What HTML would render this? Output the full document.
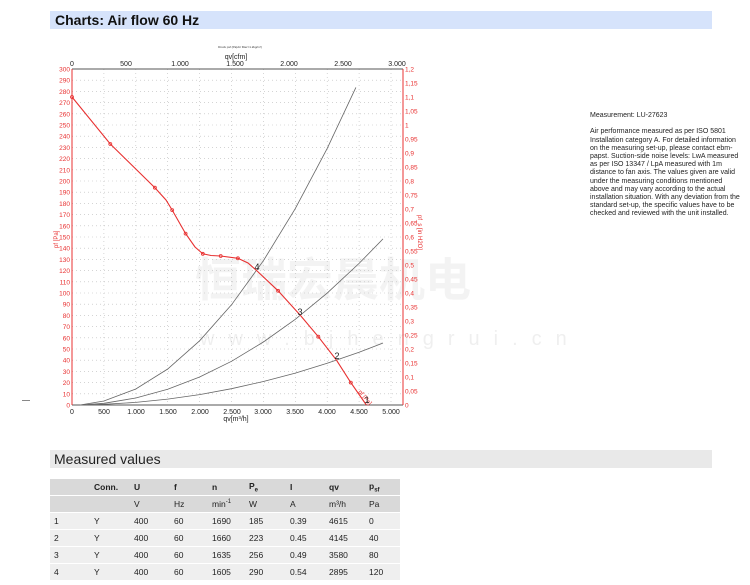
<!DOCTYPE html>
<html><head><meta charset="utf-8"><style>
body{margin:0;width:750px;height:585px;background:#fff;font-family:"Liberation Sans",sans-serif;position:relative;overflow:hidden}
.t{position:absolute;left:50px;top:11px;width:662px;height:18px;background:#d6e3fb;font-weight:bold;font-size:14px;line-height:18px;padding-left:5px;box-sizing:border-box;color:#111}
.m{position:absolute;left:50px;top:450px;width:662px;height:18px;background:#e9e9e9;font-size:14px;line-height:18px;padding-left:4px;box-sizing:border-box;color:#222}
.n{position:absolute;left:590px;top:112px;width:150px;font-size:7px;line-height:8.2px;color:#222}
table{position:absolute;left:50px;top:478px;border-collapse:separate;border-spacing:0 1px;font-size:8.5px;color:#222}
td{height:16px;padding:0 0 0 4px;background:#efefef}
tr.h td{background:#d9d9d9;font-weight:bold}
tr.u td{background:#d9d9d9}
</style></head><body>
<div class="t">Charts: Air flow 60 Hz</div>
<div style="position:absolute;left:22px;top:400px;width:8px;height:1px;background:#888"></div>
<svg width="750" height="440" style="position:absolute;left:0;top:0" font-family="Liberation Sans,sans-serif">
<text x="240" y="48" font-size="3" text-anchor="middle" fill="#333">Druck psf (Pa)Air filter=1.2kg/m³)</text>
<text x="236" y="59" font-size="7" text-anchor="middle" fill="#222">qv[cfm]</text>
<g fill="#ccc" opacity="0.22" font-size="46" font-weight="bold" font-family="Noto Sans CJK SC,sans-serif"><text x="195" y="296">恒瑞宏晨机电</text></g>
<g fill="#ccc" opacity="0.3" font-size="20"><text x="200" y="345" letter-spacing="14">www.bjhengrui.cn</text></g>
<g stroke="#bbb" stroke-width="0.6" stroke-dasharray="1,3">
<path d="M103.9 69V405M135.8 69V405M167.7 69V405M199.6 69V405M231.5 69V405M263.4 69V405M295.3 69V405M327.2 69V405M359.1 69V405M391 69V405"/>
<path d="M72 393.8H403M72 382.6H403M72 371.4H403M72 360.2H403M72 349H403M72 337.8H403M72 326.6H403M72 315.4H403M72 304.2H403M72 293H403M72 281.8H403M72 270.6H403M72 259.4H403M72 248.2H403M72 237H403M72 225.8H403M72 214.6H403M72 203.4H403M72 192.2H403M72 181H403M72 169.8H403M72 158.6H403M72 147.4H403M72 136.2H403M72 125H403M72 113.8H403M72 102.6H403M72 91.4H403M72 80.2H403"/>
</g>
<path d="M72 69H403M72 405H403" stroke="#555" stroke-width="1"/>
<path d="M72 69V405" stroke="#e83030" stroke-width="1"/>
<path d="M403 69V405" stroke="#e83030" stroke-width="1"/>
<g font-size="7" fill="#222" text-anchor="middle">
<text x="72" y="66">0</text><text x="126" y="66">500</text><text x="180" y="66">1.000</text><text x="235" y="66">1.500</text><text x="289" y="66">2.000</text><text x="343" y="66">2.500</text><text x="397" y="66">3.000</text>
<text x="72" y="414">0</text><text x="104" y="414">500</text><text x="136" y="414">1.000</text><text x="168" y="414">1.500</text><text x="200" y="414">2.000</text><text x="232" y="414">2.500</text><text x="263" y="414">3.000</text><text x="295" y="414">3.500</text><text x="327" y="414">4.000</text><text x="359" y="414">4.500</text><text x="391" y="414">5.000</text>
<text x="236" y="421">qv[m³/h]</text>
</g>
<g font-size="6.5" fill="#e83030" text-anchor="end">
<text x="70" y="407.5">0</text><text x="70" y="396.3">10</text><text x="70" y="385.1">20</text><text x="70" y="373.9">30</text><text x="70" y="362.7">40</text><text x="70" y="351.5">50</text><text x="70" y="340.3">60</text><text x="70" y="329.1">70</text><text x="70" y="317.9">80</text><text x="70" y="306.7">90</text><text x="70" y="295.5">100</text><text x="70" y="284.3">110</text><text x="70" y="273.1">120</text><text x="70" y="261.9">130</text><text x="70" y="250.7">140</text><text x="70" y="239.5">150</text><text x="70" y="228.3">160</text><text x="70" y="217.1">170</text><text x="70" y="205.9">180</text><text x="70" y="194.7">190</text><text x="70" y="183.5">200</text><text x="70" y="172.3">210</text><text x="70" y="161.1">220</text><text x="70" y="149.9">230</text><text x="70" y="138.7">240</text><text x="70" y="127.5">250</text><text x="70" y="116.3">260</text><text x="70" y="105.1">270</text><text x="70" y="93.9">280</text><text x="70" y="82.7">290</text><text x="70" y="71.5">300</text>
</g>
<g font-size="6.5" fill="#e83030">
<text x="405" y="407.5">0</text><text x="405" y="393.5">0,05</text><text x="405" y="379.5">0,1</text><text x="405" y="365.5">0,15</text><text x="405" y="351.5">0,2</text><text x="405" y="337.5">0,25</text><text x="405" y="323.5">0,3</text><text x="405" y="309.5">0,35</text><text x="405" y="295.5">0,4</text><text x="405" y="281.5">0,45</text><text x="405" y="267.5">0,5</text><text x="405" y="253.5">0,55</text><text x="405" y="239.5">0,6</text><text x="405" y="225.5">0,65</text><text x="405" y="211.5">0,7</text><text x="405" y="197.5">0,75</text><text x="405" y="183.5">0,8</text><text x="405" y="169.5">0,85</text><text x="405" y="155.5">0,9</text><text x="405" y="141.5">0,95</text><text x="405" y="127.5">1</text><text x="405" y="113.5">1,05</text><text x="405" y="99.5">1,1</text><text x="405" y="85.5">1,15</text><text x="405" y="71.5">1,2</text>
<text transform="translate(58,248) rotate(-90)" font-size="6">pf [Pa]</text>
<text transform="translate(418,215) rotate(90)" font-size="6">pf_s [in H2O]</text>
<text transform="translate(358,392) rotate(50)" font-size="6">pf [Pa]</text>
</g>
<g fill="none" stroke="#666" stroke-width="0.8">
<polyline points="80,405 103.9,401 135.8,389 167.7,369 199.6,340.8 231.5,304.8 263.4,260.7 295.3,208.6 327.2,148.4 355.9,87.4"/>
<polyline points="80,405 103.9,403.3 135.8,398 167.7,389.3 199.6,377 231.5,361.3 263.4,342 295.3,319.3 327.2,293.1 359.1,263.4 383,238.9"/>
<polyline points="80,405 103.9,404.3 135.8,402.4 167.7,399.1 199.6,394.6 231.5,388.7 263.4,381.5 295.3,373.1 327.2,363.3 359.1,352.2 383,343"/>
</g>
<polyline fill="none" stroke="#e83030" stroke-width="1.1" points="72,97 110.3,144 154.9,187.7 166,200 172.2,210.1 185.6,233.6 195,247 202.8,253.8 211,255.5 220.7,256 237.9,258.3 248,263 256.7,270.6 278.1,290.8 300.4,315.4 318.3,336.7 336.5,360.2 350.8,382.6 366.4,405"/>
<g fill="none" stroke="#e83030" stroke-width="0.8">
<circle cx="72" cy="97" r="1.5"/><circle cx="110.3" cy="144" r="1.5"/><circle cx="154.9" cy="187.7" r="1.5"/><circle cx="172.2" cy="210.1" r="1.5"/><circle cx="185.6" cy="233.6" r="1.5"/><circle cx="202.8" cy="253.8" r="1.5"/><circle cx="220.7" cy="256" r="1.5"/><circle cx="237.9" cy="258.3" r="1.5"/><circle cx="278.1" cy="290.8" r="1.5"/><circle cx="318.3" cy="336.7" r="1.5"/><circle cx="350.8" cy="382.6" r="1.5"/>
</g>
<g font-size="9" fill="#222" text-anchor="middle">
<text x="257" y="270">4</text><text x="300" y="315">3</text><text x="337" y="359">2</text><text x="367" y="403">1</text>
</g>
</svg>
<div class="n">Measurement: LU-27623<br><br>Air performance measured as per ISO 5801 Installation category A. For detailed information on the measuring set-up, please contact ebm-papst. Suction-side noise levels: LwA measured as per ISO 13347 / LpA measured with 1m distance to fan axis. The values given are valid under the measuring conditions mentioned above and may vary according to the actual installation situation. With any deviation from the standard set-up, the specific values have to be checked and reviewed with the unit installed.</div>
<div class="m">Measured values</div>
<table>
<tr class="h"><td style="width:36px"></td><td style="width:36px">Conn.</td><td style="width:36px">U</td><td style="width:34px">f</td><td style="width:33px">n</td><td style="width:37px">P<sub style="font-size:6px">e</sub></td><td style="width:35px">I</td><td style="width:36px">qv</td><td style="width:31px">p<sub style="font-size:6px">sf</sub></td></tr>
<tr class="u"><td></td><td></td><td>V</td><td>Hz</td><td>min<sup style="font-size:6px">-1</sup></td><td>W</td><td>A</td><td>m³/h</td><td>Pa</td></tr>
<tr><td>1</td><td>Y</td><td>400</td><td>60</td><td>1690</td><td>185</td><td>0.39</td><td>4615</td><td>0</td></tr>
<tr><td>2</td><td>Y</td><td>400</td><td>60</td><td>1660</td><td>223</td><td>0.45</td><td>4145</td><td>40</td></tr>
<tr><td>3</td><td>Y</td><td>400</td><td>60</td><td>1635</td><td>256</td><td>0.49</td><td>3580</td><td>80</td></tr>
<tr><td>4</td><td>Y</td><td>400</td><td>60</td><td>1605</td><td>290</td><td>0.54</td><td>2895</td><td>120</td></tr>
</table>
</body></html>
